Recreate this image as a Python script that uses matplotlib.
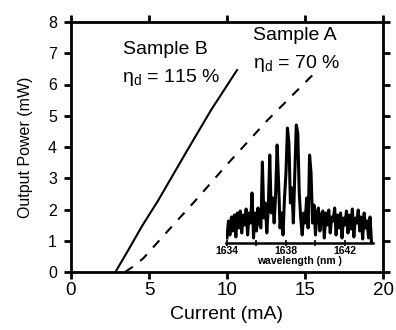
import matplotlib
matplotlib.use("Agg")
import matplotlib.pyplot as plt

plt.rcParams['font.family'] = ['Liberation Sans', 'DejaVu Sans']
plt.rcParams['mathtext.fontset'] = 'custom'
plt.rcParams['mathtext.rm'] = 'Liberation Sans'
plt.rcParams['mathtext.it'] = 'Liberation Sans'

# Sample B (solid)
cur_B = [2.85, 3.67, 4.53, 5.6, 7.46, 9.0, 10.64]
pow_B = [0.0, 0.7, 1.45, 2.3, 3.9, 5.2, 6.46]
# Sample A (dashed)
cur_A = [3.46, 4.0, 4.64, 6.0, 8.0, 10.04, 12.6, 15.8]
pow_A = [0.0, 0.18, 0.44, 1.2, 2.3, 3.46, 4.86, 6.46]

x_ticks = [0, 5, 10, 15, 20]
y_ticks = [0, 1, 2, 3, 4, 5, 6, 7, 8]

# inset spectrum
wl = [1634.0, 1634.1, 1634.2, 1634.3, 1634.4, 1634.5, 1634.6, 1634.7, 1634.8, 1634.9,
      1635.0, 1635.1, 1635.2, 1635.3, 1635.4, 1635.5, 1635.6, 1635.7, 1635.8, 1635.9,
      1636.0, 1636.1, 1636.2, 1636.3, 1636.4, 1636.5, 1636.6, 1636.7, 1636.8, 1636.9,
      1637.0, 1637.1, 1637.2, 1637.3, 1637.4, 1637.5, 1637.6, 1637.7, 1637.8, 1637.9,
      1638.0, 1638.1, 1638.2, 1638.3, 1638.4, 1638.5, 1638.6, 1638.7, 1638.8, 1638.9,
      1639.0, 1639.1, 1639.2, 1639.3, 1639.4, 1639.5, 1639.6, 1639.7, 1639.8, 1639.9,
      1640.0, 1640.1, 1640.2, 1640.3, 1640.4, 1640.5, 1640.6, 1640.7, 1640.8, 1640.9,
      1641.0, 1641.1, 1641.2, 1641.3, 1641.4, 1641.5, 1641.6, 1641.7, 1641.8, 1641.9,
      1642.0, 1642.1, 1642.2, 1642.3, 1642.4, 1642.5, 1642.6, 1642.7, 1642.8, 1642.9,
      1643.0, 1643.1, 1643.2, 1643.3, 1643.4, 1643.5, 1643.6, 1643.7, 1643.8]
inten = [5, 22, 8, 26, 12, 28, 6, 30, 15, 32,
         10, 28, 18, 34, 8, 30, 20, 50, 5, 30,
         12, 35, 20, 15, 81, 25, 40, 10, 35, 88,
         30, 45, 20, 50, 98, 60, 15, 30, 8, 45,
         70, 115, 100, 40, 55, 20, 70, 118, 110, 50,
         25, 8, 30, 20, 45, 15, 88, 70, 20, 38,
         8, 30, 35, 12, 28, 32, 5, 30, 18, 33,
         10, 26, 22, 35, 8, 28, 15, 30, 5, 25,
         18, 32, 10, 28, 14, 34, 6, 25, 20, 33,
         12, 26, 4, 30, 15, 22, 5, 26, 0]
wl_ticks = [1634, 1636, 1638, 1640, 1642]
wl_labels = ['1634', '', '1638', '', '1642']

W, H = 396, 330
fig = plt.figure(figsize=(W / 100, H / 100), dpi=100)
ax = fig.add_axes([71 / W, 1 - 272 / H, (383 - 71) / W, (272 - 22) / H])

ax.plot(cur_B, pow_B, color='black', lw=1.5)
ax.plot(cur_A, pow_A, color='black', lw=1.5, dashes=(4.5, 4.5))

ax.set_xlim(0, 20)
ax.set_ylim(0, 8)
ax.set_xticks(x_ticks)
ax.set_yticks(y_ticks)
for s in ax.spines.values():
    s.set_linewidth(2)
ax.tick_params(direction='out', length=5, width=2, top=True, right=True,
               labeltop=False, labelright=False)
ax.tick_params(axis='x', labelsize=13.5, pad=2)
ax.tick_params(axis='y', labelsize=11.5, pad=5)
ax.set_xlabel('Current (mA)', fontsize=14, labelpad=5)
ax.set_ylabel('Output Power (mW)', fontsize=11.5, labelpad=11)

kw = dict(transform=fig.transFigure, fontsize=14, va='center')
ax.text(123 / W, 1 - 49 / H, 'Sample B', ha='left', **kw)
ax.text(122 / W, 1 - 77 / H, r'$\mathrm{\eta}_{\mathrm{d}}$ = 115 %', ha='left', **kw)
ax.text(253 / W, 1 - 35 / H, 'Sample A', ha='left', **kw)
ax.text(253 / W, 1 - 63 / H, r'$\mathrm{\eta}_{\mathrm{d}}$ = 70 %', ha='left', **kw)

ins = fig.add_axes([225.5 / W, 1 - 243 / H, 147.5 / W, 120 / H])
ins.patch.set_alpha(0)
ins.plot(wl, inten, color='black', lw=2.2)
ins.set_xlim(1633.9, 1643.9)
ins.set_ylim(0, 120)
for k in ['top', 'left', 'right']:
    ins.spines[k].set_visible(False)
ins.spines['bottom'].set_linewidth(1.8)
ins.set_yticks([])
ins.set_xticks(wl_ticks)
ins.set_xticklabels(wl_labels, fontsize=7.5, fontweight='bold')
ins.tick_params(axis='x', direction='inout', length=5, width=1.2, pad=0)
ins.set_xlabel('wavelength (nm )', fontsize=7.5, fontweight='bold', labelpad=0)

fig.savefig('out.png', dpi=100)
